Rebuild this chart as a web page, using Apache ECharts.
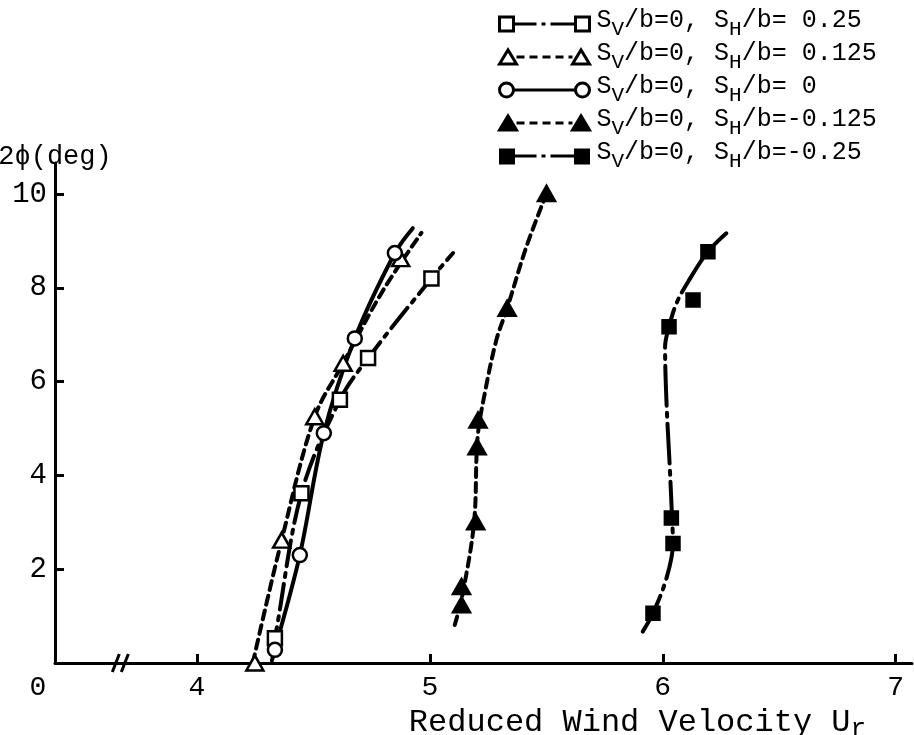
<!DOCTYPE html>
<html><head><meta charset="utf-8">
<script src="https://cdn.jsdelivr.net/npm/echarts@6/dist/echarts.min.js"></script>
<style>html,body{margin:0;padding:0;background:#fff}#c{width:914px;height:735px}</style>
</head><body><div id="c"></div>
<script>
// ---------- data ----------
const xTicks = [4, 5, 6, 7];
const yTicks = [2, 4, 6, 8, 10];
const X_MIN = 3.391, X_MAX = 7.07, Y_MAX = 10.66, BREAK_X = 3.68;

const shValues = ['0.25', '0.125', '0', '-0.125', '-0.25'];

// S_H/b = 0.25 (open squares, dash-dot)
const sqOpenPts   = [[4.335,0.53],[4.449,3.62],[4.614,5.61],[4.735,6.50],[5.007,8.20]];
const sqOpenCurve = [[4.318,0.22],[4.335,0.53],[4.449,3.62],[4.614,5.61],[4.735,6.50],[5.007,8.20],[5.10,8.74]];
// S_H/b = 0.125 (open triangles, dashed)
const triOpenPts   = [[4.249,0.0],[4.364,2.62],[4.506,5.25],[4.628,6.39],[4.875,8.62]];
const triOpenCurve = [[4.240,0.0],[4.364,2.62],[4.506,5.25],[4.628,6.39],[4.80,7.95],[4.964,9.17]];
// S_H/b = 0 (open circles, solid)
const circPts   = [[4.335,0.28],[4.442,2.30],[4.545,4.90],[4.678,6.92],[4.850,8.74]];
const circCurve = [[4.322,0.05],[4.335,0.28],[4.442,2.30],[4.545,4.90],[4.678,6.92],[4.850,8.74],[4.927,9.27]];
// S_H/b = -0.125 (filled triangles, dashed)
const triFillPts   = [[5.136,1.24],[5.136,1.63],[5.197,3.01],[5.203,4.61],[5.207,5.18],[5.332,7.56],[5.501,10.01]];
const triFillCurve = [[5.107,0.81],[5.14,1.45],[5.19,3.0],[5.205,4.8],[5.236,5.75],[5.286,6.89],[5.332,7.56],[5.415,8.88],[5.51,10.12]];
// S_H/b = -0.25 (filled squares, dash-dot)
const sqFillPts   = [[5.958,1.06],[6.044,2.55],[6.037,3.09],[6.027,7.17],[6.130,7.74],[6.194,8.77]];
const sqFillCurve = [[5.914,0.67],[5.958,1.06],[6.016,1.81],[6.044,2.55],[6.04,3.09],[6.03,4.19],[6.016,5.57],[6.01,6.74],[6.027,7.17],[6.059,7.67],[6.109,8.13],[6.194,8.77],[6.273,9.16]];

// ---------- styling ----------
const FONT = '"Liberation Mono","DejaVu Sans Mono",monospace';
const names = shValues.map(v => 'SH' + v);
const curves = [sqOpenCurve, triOpenCurve, circCurve, triFillCurve, sqFillCurve];
const points = [sqOpenPts, triOpenPts, circPts, triFillPts, sqFillPts];
const dashes = [[26,7,4,7], [9,6], 'solid', [9,6], [40,7,4,7]];
const symbols = ['rect', 'triangle', 'circle', 'triangle', 'rect'];
const symSizes = [14, [17,15], 14, [17,15], 13];
const fills = ['#fff', '#fff', '#fff', '#000', '#000'];

const B = 'M0,0L0,0M90,18L90,18';
const icons = [
  'path://' + B + 'M0,2H14V16H0Z M14,9H37 M42,9H46 M51,9H76 M76,2H90V16H76Z',
  'path://' + B + 'M0,16L8.5,2L17,16Z M17,9H25 M30,9H38 M43,9H51 M56,9H64 M69,9H73 M73,16L81.5,2L90,16Z',
  'path://' + B + 'M0,9A7,7 0 1,1 14,9A7,7 0 1,1 0,9Z M14,9H76 M76,9A7,7 0 1,1 90,9A7,7 0 1,1 76,9Z',
  'path://' + B + 'M0,16L8.5,2L17,16Z M17,9H25 M30,9H38 M43,9H51 M56,9H64 M69,9H73 M73,16L81.5,2L90,16Z',
  'path://' + B + 'M1,3H14V16H1Z M14,9H37 M42,9H46 M51,9H76 M76,3H89V16H76Z'
];

const series = [];
names.forEach((n, i) => {
  series.push({
    name: n, type: 'line', data: curves[i], smooth: 0.35, symbol: 'none', showSymbol: false,
    lineStyle: {color: '#000', width: 4, type: dashes[i], cap: 'round'}, itemStyle: {color: '#000'},
    z: 2, silent: true, animation: false
  });
  series.push({
    name: n, type: 'scatter', data: points[i], symbol: symbols[i], symbolSize: symSizes[i],
    itemStyle: {color: fills[i], borderColor: '#000', borderWidth: 2.5, opacity: 1},
    z: 3, silent: true, animation: false
  });
});

const chart = echarts.init(document.getElementById('c'), null, {renderer: 'canvas'});
chart.setOption({
  animation: false,
  backgroundColor: '#fff',
  grid: {left: 55, right: 2, top: 163, bottom: 72, containLabel: false, outerBoundsMode: 'none'},
  legend: {
    orient: 'vertical', left: 493, top: 3, itemWidth: 90, itemHeight: 18, itemGap: 1,
    selectedMode: false,
    data: names.map((n, i) => ({
      name: n, icon: icons[i],
      itemStyle: {color: fills[i], borderColor: '#000', borderWidth: 3}
    })),
    formatter: name => {
      const v = shValues[names.indexOf(name)];
      const val = v.startsWith('-') ? v : ' ' + v;
      return '{n|S}{s|V}{n|/b=0, S}{s|H}{n|/b=' + val + '}';
    },
    textStyle: {
      color: '#000', fontFamily: FONT, fontSize: 25, padding: [0, 0, 0, 2],
      rich: {
        n: {fontFamily: FONT, fontSize: 25, color: '#000', verticalAlign: 'top', lineHeight: 32},
        s: {fontFamily: FONT, fontSize: 21, color: '#000', verticalAlign: 'top', padding: [11, 0, 0, 0], lineHeight: 21}
      }
    }
  },
  xAxis: {
    type: 'value', min: X_MIN, max: X_MAX,
    axisLine: {show: true, onZero: false, lineStyle: {color: '#000', width: 3}},
    axisTick: {show: true, inside: true, length: 9, customValues: xTicks, lineStyle: {color: '#000', width: 3}},
    axisLabel: {
      customValues: [X_MIN].concat(xTicks), margin: 11, color: '#000', fontFamily: FONT, fontSize: 28,
      formatter: v => (v < 3.5 ? '{z|0}' : String(Math.round(v))),
      rich: {z: {fontFamily: FONT, fontSize: 28, color: '#000', padding: [0, 34, 0, 0]}}
    },
    splitLine: {show: false},
    name: '{n|Reduced Wind Velocity U}{s|r}', nameLocation: 'middle', nameGap: 36,
    nameTextStyle: {
      verticalAlign: 'top', padding: [0, 0, 0, 308], color: '#000', fontFamily: FONT, fontSize: 32,
      rich: {
        n: {fontFamily: FONT, fontSize: 32, color: '#000', verticalAlign: 'top', lineHeight: 40},
        s: {fontFamily: FONT, fontSize: 26, color: '#000', verticalAlign: 'top', padding: [9, 0, 0, 0], lineHeight: 28}
      }
    }
  },
  yAxis: {
    type: 'value', min: 0, max: Y_MAX, interval: 2,
    axisLine: {show: true, onZero: false, lineStyle: {color: '#000', width: 3}},
    axisTick: {show: true, inside: true, length: 9, customValues: yTicks, lineStyle: {color: '#000', width: 3}},
    axisLabel: {customValues: yTicks, margin: 8, color: '#000', fontFamily: FONT, fontSize: 29},
    splitLine: {show: false},
    name: '2ϕ(deg)', nameLocation: 'end', nameGap: 6,
    nameTextStyle: {color: '#000', fontFamily: FONT, fontSize: 27, align: 'center', verticalAlign: 'middle'}
  },
  series: series
});

// axis break mark "//" placed through the chart's own scales
const bx = chart.convertToPixel({xAxisIndex: 0}, BREAK_X);
const by = chart.convertToPixel({yAxisIndex: 0}, 0);
chart.setOption({
  graphic: [{
    type: 'group', z: 100, children: [
      {type: 'rect', shape: {x: bx - 6, y: by - 5, width: 11, height: 10}, style: {fill: '#fff'}},
      {type: 'line', shape: {x1: bx - 10, y1: by + 9, x2: bx - 3, y2: by - 9}, style: {stroke: '#000', lineWidth: 3}},
      {type: 'line', shape: {x1: bx - 1, y1: by + 9, x2: bx + 6, y2: by - 9}, style: {stroke: '#000', lineWidth: 3}}
    ]
  }]
});
</script>
</body></html>
